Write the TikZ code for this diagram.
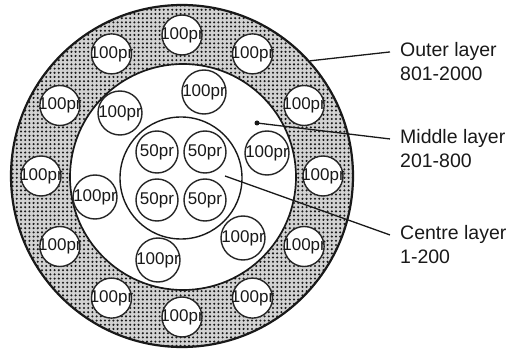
\documentclass[tikz,border=0pt]{standalone}
\usepackage{fontspec}
\setmainfont{Liberation Sans}
\usetikzlibrary{patterns.meta}
\begin{document}
\begin{tikzpicture}[x=1pt,y=-1pt,
  bigcirc/.style={circle, draw=black!90, line width=1.7pt, inner sep=0pt},
  pcirc/.style={circle, draw=black!85, fill=white, line width=1.4pt, inner sep=0pt,
    minimum size=#1, font=\fontsize{17}{18}\selectfont, text=black!90},
  pcirc/.default=40pt,
  lab/.style={anchor=base west, inner xsep=10pt, inner ysep=0pt, font=\fontsize{19.5}{20}\selectfont, text=black!90},
  lead/.style={draw=black!90, line width=1.3pt}]
\useasboundingbox (0,0) rectangle (512,350);
% ring fill
\fill[gray!35, even odd rule] (182,176) circle[radius=171] (183,177) circle[radius=113];
\fill[pattern={Dots[radius=1.15pt, distance=4.2pt]}, pattern color=black!90, even odd rule]
  (182,176) circle[radius=171] (183,177) circle[radius=113];
\node[bigcirc, minimum size=342pt, line width=2.2pt] (outer) at (182,176) {};
\node[bigcirc, minimum size=226pt] (middle) at (183,177) {};
\node[bigcirc, minimum size=122pt, line width=1.4pt] (centre) at (181,178) {};
% outer ring circles
\foreach \a [count=\i] in {0,30,...,330}
  \node[pcirc] (o\i) at ({182+141*cos(\a)},{176-141*sin(\a)}) {\makebox[0pt]{100pr}};
% middle layer circles
\node[pcirc=44pt] (m1) at (204,92) {\makebox[0pt]{100pr}};
\node[pcirc=44pt] (m2) at (120,113) {\makebox[0pt]{100pr}};
\node[pcirc=44pt] (m3) at (267,153) {\makebox[0pt]{100pr}};
\node[pcirc=44pt] (m4) at (95,197) {\makebox[0pt]{100pr}};
\node[pcirc=44pt] (m5) at (243,238) {\makebox[0pt]{100pr}};
\node[pcirc=44pt] (m6) at (158,260) {\makebox[0pt]{100pr}};
% centre circles
\node[pcirc=42pt] (c1) at (157,152) {\makebox[0pt]{50pr}};
\node[pcirc=42pt] (c2) at (205,152) {\makebox[0pt]{50pr}};
\node[pcirc=42pt] (c3) at (157,200) {\makebox[0pt]{50pr}};
\node[pcirc=42pt] (c4) at (205,200) {\makebox[0pt]{50pr}};
% labels
\node[lab] (lo1) at (390,57) {Outer layer};
\node[lab] (lo2) at (390,81) {801-2000};
\node[lab] (lm1) at (390,144) {Middle layer};
\node[lab] (lm2) at (390,168) {201-800};
\node[lab] (lc1) at (390,240) {Centre layer};
\node[lab] (lc2) at (390,264) {1-200};
% leaders
\coordinate (mdot) at (257,123);
\coordinate (cdot) at (225,176);
\fill[black!90] (mdot) circle[radius=2.5];
\draw[lead] (outer.42) -- (lo1.west);
\draw[lead] (mdot) -- (lm1.west);
\draw[lead] (cdot) -- (lc1.west);
\end{tikzpicture}
\end{document}
